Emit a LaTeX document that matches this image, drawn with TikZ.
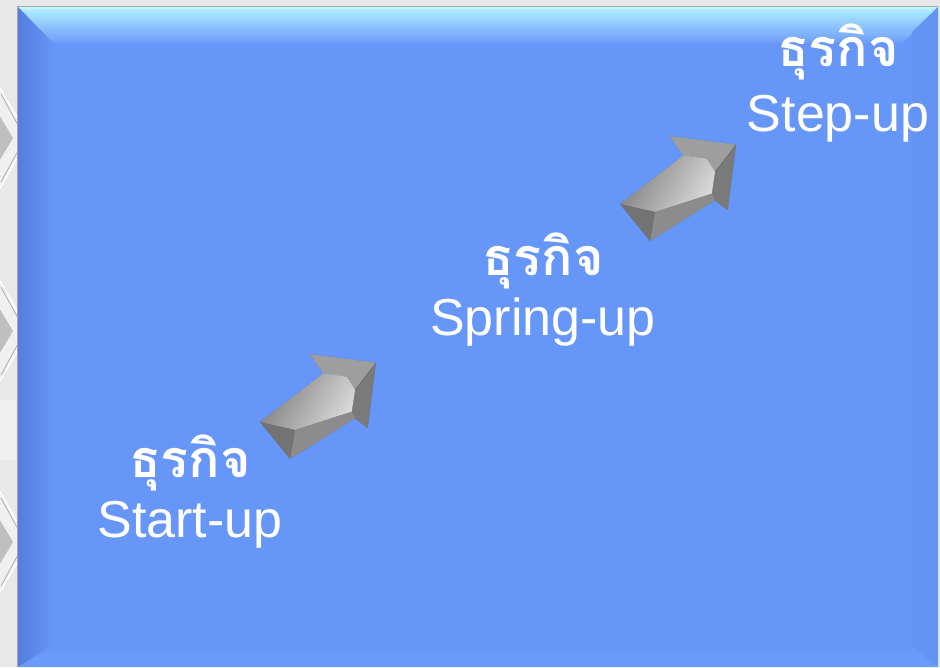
\documentclass[tikz,border=0pt]{standalone}
\usepackage{fontspec}
\setmainfont{Liberation Sans}
\newfontfamily\thaifont[Script=Thai]{Loma}
\definecolor{bgray}{RGB}{232,232,232}
\definecolor{mainblue}{RGB}{103,150,249}
\definecolor{topcyan}{RGB}{176,242,255}
\definecolor{leftblue}{RGB}{84,125,222}
\definecolor{botblue}{RGB}{108,157,252}
\tikzset{
  thai/.style={text=white,font=\thaifont\bfseries\fontsize{52}{56}\selectfont,anchor=base,inner sep=0pt},
  eng/.style={text=white,font=\fontsize{52}{56}\selectfont,anchor=base,inner sep=0pt},
  bigarrow/.pic={
    \coordinate (A) at (0,0);
    \coordinate (C) at (35,8);
    \coordinate (B) at (30,37);
    \coordinate (D) at (63.3,-48.7);
    \coordinate (N) at (86.7,-45.3);
    \coordinate (K) at (95,-32);
    \coordinate (R) at (91.7,-10.3);
    \coordinate (F) at (95,-3.7);
    \coordinate (G) at (49.3,-68);
    \coordinate (H) at (116,-59.3);
    \coordinate (I) at (107.7,6.3);
    \foreach \o/\a in {7/0.06,5/0.08,3/0.1}{
      \fill[black,opacity=\a,shift={(\o,\o)}] (A)--(D)--(G)--(H)--(I)--(F)--(B)--cycle;
    }
    \fill[black!38] (D)--(G)--(H)--(K)--(N)--cycle;
    \fill[black!52] (K)--(H)--(I)--(F)--(R)--cycle;
    \draw[black!60,line width=.4pt] (K)--(H);
    \shade[left color=black!50,right color=black!15,shading angle=60] (A)--(D)--(N)--(K)--(R)--(C)--cycle;
    \fill[black!45] (C)--(R)--(F)--(B)--cycle;
    \fill[black!55] (A)--(C)--(B)--cycle;
  }
}
\begin{document}
\begin{tikzpicture}[x=1pt,y=-1pt]
\useasboundingbox (0,0) rectangle (940,667);
\fill[bgray] (0,0) rectangle (940,667);
% faint white glow between chevrons
\fill[white,opacity=.35] (0,400) rectangle (16,460);
% left chevrons
\foreach \cy in {138,331,542}{
  \fill[white!94!black] (-5,\cy-55)--(29,\cy)--(-5,\cy+55)--cycle;
  \fill[black!25] (-5,\cy-30)--(13,\cy)--(-5,\cy+30)--cycle;
  \draw[white,line width=1.4pt] (0,\cy-50)--(29,\cy)--(0,\cy+50);
  \draw[black!35,line width=.7pt] (1,\cy-44)--(25,\cy)--(1,\cy+44);
}
% blue panel
\fill[black!35] (17,6) rectangle (938,667);
\fill[mainblue] (18,7) rectangle (938,667);
\shade[top color=topcyan,bottom color=mainblue!95!white] (18,7)--(938,7)--(903,43)--(53,43)--cycle;
\fill[topcyan!80!white] (18,7) rectangle (938,9);
\shade[left color=leftblue,right color=mainblue] (18,7)--(53,43)--(53,645)--(18,667)--cycle;
\shade[top color=mainblue,bottom color=botblue] (18,667)--(53,645)--(912,645)--(938,667)--cycle;
\fill[mainblue!98!black] (912,32)--(938,7)--(938,667)--(912,645)--cycle;
\fill[mainblue] (53,43) rectangle (912,645);
% arrows
\pic at (260,422) {bigarrow};
\pic at (620,204) {bigarrow};
% texts
\node[thai] (t1) at (190,477) {ธุรกิจ};
\node[eng] (e1) at (190,537) {Start-up};
\node[thai] (t2) at (543,275) {ธุรกิจ};
\node[eng] (e2) at (543,335) {Spring-up};
\node[thai] (t3) at (838,66) {ธุรกิจ};
\node[eng] (e3) at (838,131) {Step-up};
\end{tikzpicture}
\end{document}
